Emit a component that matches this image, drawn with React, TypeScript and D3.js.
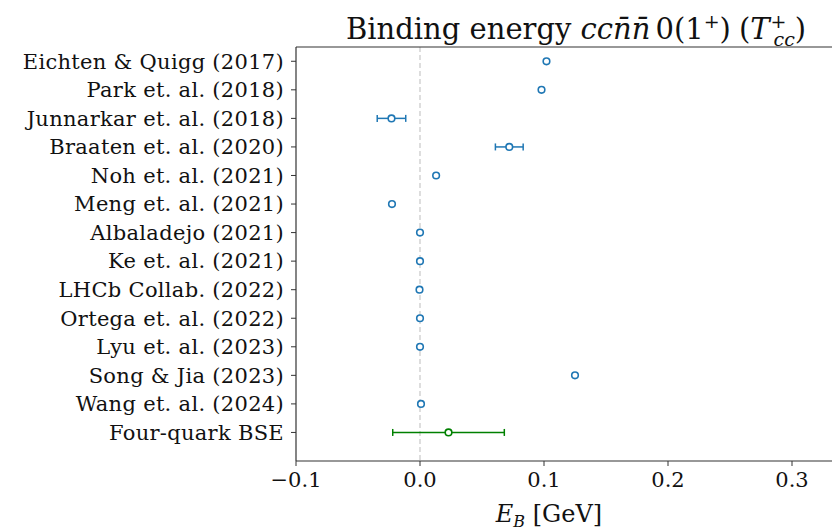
import React from "react";
import * as d3 from "d3";

const labels = [
  "Eichten & Quigg (2017)",
  "Park et. al. (2018)",
  "Junnarkar et. al. (2018)",
  "Braaten et. al. (2020)",
  "Noh et. al. (2021)",
  "Meng et. al. (2021)",
  "Albaladejo (2021)",
  "Ke et. al. (2021)",
  "LHCb Collab. (2022)",
  "Ortega et. al. (2022)",
  "Lyu et. al. (2023)",
  "Song & Jia (2023)",
  "Wang et. al. (2024)",
  "Four-quark BSE",
];
const values = [0.102, 0.098, -0.023, 0.072, 0.013, -0.0226, 0.0, 0.0, -0.0004, 0.0, 0.0, 0.125, 0.0008, 0.023];
const errors = [0, 0, 0.0115, 0.0112, 0, 0, 0, 0, 0, 0, 0, 0, 0, 0.045];
const xTicks = [-0.1, 0.0, 0.1, 0.2, 0.3];

const W = 832, H = 531;
const left = 296, top = 47, bottom = 461;
const xDomain = [-0.1, 0.37];

export default function App() {
  const x = d3.scaleLinear().domain(xDomain).range([left, left + (xDomain[1] - xDomain[0]) * 1240]);
  const y = d3.scaleLinear().domain([-0.5, labels.length]).range([top, bottom]);
  const right = x(xDomain[1]);
  const font = "'DejaVu Serif', 'Liberation Serif', serif";
  const blue = "#1f77b4";
  const green = "#008000";
  return (
    <svg width={W} height={H} style={{ position: "absolute", left: 0, top: 0, background: "#fff" }} fontFamily={font}>
      <rect x={0} y={0} width={W} height={H} fill="#fff" />
      <line x1={x(0)} x2={x(0)} y1={top} y2={bottom} stroke="#cccccc" strokeWidth={1.3} strokeDasharray="5,3" />
      <line x1={left} x2={left} y1={top} y2={bottom} stroke="#333" strokeWidth={1.2} />
      <line x1={left} x2={right} y1={bottom} y2={bottom} stroke="#333" strokeWidth={1.2} />
      <line x1={left} x2={right} y1={top} y2={top} stroke="#333" strokeWidth={1.2} />
      {labels.map((l, i) => (
        <g key={l}>
          <line x1={left - 5} x2={left} y1={y(i)} y2={y(i)} stroke="#333" strokeWidth={1} />
          <text x={284} y={y(i)} dy="0.35em" textAnchor="end" fontSize={21} letterSpacing={0.3} fill="#111">{l}</text>
        </g>
      ))}
      {xTicks.map((t) => (
        <g key={t}>
          <line x1={x(t)} x2={x(t)} y1={bottom} y2={bottom + 5} stroke="#333" strokeWidth={1} />
          <text x={x(t)} y={bottom + 26} textAnchor="middle" fontSize={21} fill="#111">
            {t < 0 ? "\u2212" + Math.abs(t).toFixed(1) : t.toFixed(1)}
          </text>
        </g>
      ))}
      {values.map((v, i) => {
        const c = i === values.length - 1 ? green : blue;
        const e = errors[i];
        const cy = y(i);
        return (
          <g key={i}>
            {e > 0 && (
              <g stroke={c} strokeWidth={1.5}>
                <line x1={x(v - e)} x2={x(v + e)} y1={cy} y2={cy} />
                <line x1={x(v - e)} x2={x(v - e)} y1={cy - 3.5} y2={cy + 3.5} />
                <line x1={x(v + e)} x2={x(v + e)} y1={cy - 3.5} y2={cy + 3.5} />
              </g>
            )}
            <circle cx={x(v)} cy={cy} r={3.3} fill="#fff" stroke={c} strokeWidth={1.6} />
          </g>
        );
      })}
      <text x={346} y={39} fontSize={29} fill="#111">
        {"Binding energy "}
        <tspan fontStyle="italic">{"ccn\u0304n\u0304"}</tspan>
        <tspan dx={5}>{"0(1"}</tspan>
        <tspan dy={-11} fontSize={19}>+</tspan>
        <tspan dy={11}>{")"}</tspan>
        <tspan dx={8}>{"("}</tspan>
        <tspan fontStyle="italic">T</tspan>
        <tspan dx={1} dy={-11} fontSize={19}>+</tspan>
        <tspan dx={-13} dy={18} fontSize={19} fontStyle="italic">cc</tspan>
        <tspan dy={-7}>)</tspan>
      </text>
      <text x={549} y={522} textAnchor="middle" fontSize={24} fill="#111">
        <tspan fontStyle="italic">E</tspan>
        <tspan fontSize={16} fontStyle="italic" dy={5}>B</tspan>
        <tspan dy={-5}>{" [GeV]"}</tspan>
      </text>
    </svg>
  );
}
